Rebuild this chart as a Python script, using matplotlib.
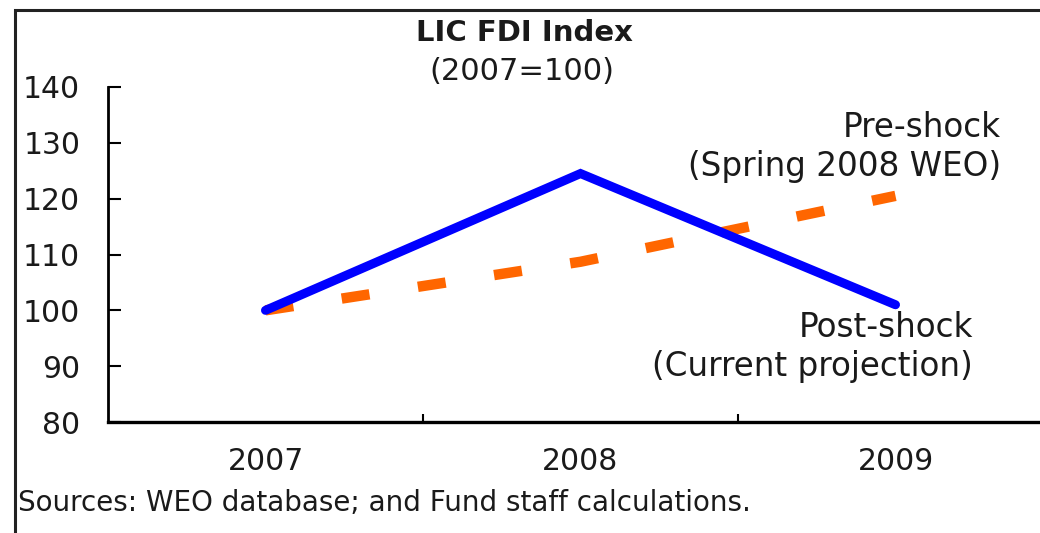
import matplotlib
matplotlib.use("Agg")
import matplotlib.pyplot as plt
from matplotlib.patches import Rectangle

years = ["2007", "2008", "2009"]
post_shock = [100, 124.5, 101]
pre_shock = [100, 108.7, 120.5]
yticks = [80, 90, 100, 110, 120, 130, 140]

plt.rcParams['font.family'] = ['DejaVu Sans']

W, H = 1040, 533
fig = plt.figure(figsize=(W / 100, H / 100), dpi=100)
fig.patch.set_facecolor("white")

# outer frame (cut off at right and bottom like the source)
fig.patches.append(Rectangle((15 / W, -0.1), 1.2, 1 - 10 / H + 0.1, transform=fig.transFigure,
                             fill=False, edgecolor="#222222", linewidth=2.2, clip_on=False))

ax = fig.add_axes([108 / W, 1 - 422 / H, (1053 - 108) / W, (422 - 87) / H])
x = list(range(len(years)))

ax.plot(x, pre_shock, color="#FF6600", linewidth=7.5, dashes=(2.7, 4.7), dash_capstyle="butt")
ax.plot(x, post_shock, color="#0000FF", linewidth=6.5, solid_capstyle="round", solid_joinstyle="miter")

ax.set_xlim(-0.5, 2.5)
ax.set_ylim(80, 140)
ax.set_yticks(yticks)
ax.set_xticks(x)
ax.set_xticklabels(years)
ax.set_xticks([0.5, 1.5], minor=True)

for s in ["top", "right"]:
    ax.spines[s].set_visible(False)
ax.spines["left"].set_linewidth(2)
ax.spines["bottom"].set_linewidth(2.4)

ax.tick_params(axis="y", direction="in", length=9, width=1.5, labelsize=21.5, pad=20, colors="black",
               labelcolor="#1a1a1a")
ax.tick_params(axis="x", which="major", length=0, labelsize=21.5, pad=18, labelcolor="#1a1a1a")
ax.tick_params(axis="x", which="minor", direction="in", length=6, width=1.5)

fig.text(524 / W, 1 - 33 / H, "LIC FDI Index", ha="center", va="center", fontsize=21,
         fontweight="bold", color="#1a1a1a")
fig.text(522 / W, 1 - 72 / H, "(2007=100)", ha="center", va="center", fontsize=22, color="#1a1a1a")

fig.text(1001 / W, 1 - 147 / H, "Pre-shock\n(Spring 2008 WEO)", ha="right", va="center",
         fontsize=23.5, color="#1a1a1a", linespacing=1.2)
fig.text(973 / W, 1 - 347 / H, "Post-shock\n(Current projection)", ha="right", va="center",
         fontsize=23.5, color="#1a1a1a", linespacing=1.2)

fig.text(18 / W, 1 - 503 / H, "Sources: WEO database; and Fund staff calculations.", ha="left",
         va="center", fontsize=20, color="#1a1a1a")

fig.savefig("out.png", dpi=100)
